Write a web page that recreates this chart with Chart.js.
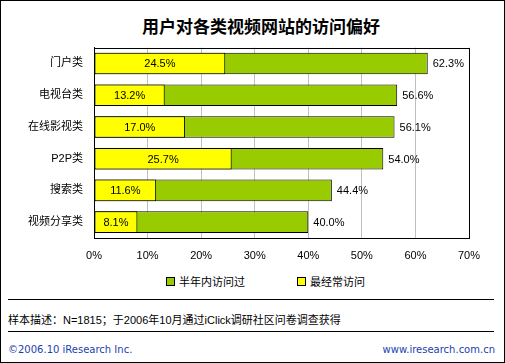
<!DOCTYPE html>
<html>
<head>
<meta charset="utf-8">
<script src="https://cdn.jsdelivr.net/npm/chart.js@4/dist/chart.umd.min.js"></script>
<style>
  html, body { margin: 0; padding: 0; background: #fff; }
  #frame { position: relative; width: 505px; height: 363px; box-sizing: border-box; border: 1px solid #000; overflow: hidden; font-family: "Liberation Sans", "Noto Sans CJK SC", sans-serif; }
  #title { position: absolute; left: 16px; width: 488px; top: 14px; text-align: center; font: bold 17px "Noto Sans CJK SC", sans-serif; line-height: 22px; color: #000; }
  #chartBox { position: absolute; left: -1px; top: 29px; width: 505px; height: 236px; }
  #legend { position: absolute; left: 165px; top: 273px; font-size: 11px; line-height: 16px; white-space: nowrap; }
  #legend span.item { display: inline-block; margin-right: 52px; }
  #legend i { display: inline-block; width: 7px; height: 7px; border: 1px solid #000; margin-right: 4px; vertical-align: 0px; }
  .rule { position: absolute; left: 7px; width: 486px; height: 0; border-top: 1px solid #000; }
  #note { position: absolute; left: 7px; top: 311px; font-size: 11px; line-height: 16px; color: #000; }
  .foot { position: absolute; top: 341px; font-family: "DejaVu Sans", sans-serif; font-size: 10px; line-height: 16px; color: #1a3fb0; }
</style>
</head>
<body>
<div id="frame">
  <div id="title">用户对各类视频网站的访问偏好</div>
  <div id="chartBox"><canvas id="chart"></canvas></div>
  <div id="legend"></div>
  <div class="rule" style="top:298px"></div>
  <div id="note">样本描述：N=1815；于2006年10月通过iClick调研社区问卷调查获得</div>
  <div class="rule" style="top:330px"></div>
  <div class="foot" style="left:7px">©2006.10 iResearch Inc.</div>
  <div class="foot" style="right:9px">www.iresearch.com.cn</div>
</div>
<script>
const categories = ["门户类", "电视台类", "在线影视类", "P2P类", "搜索类", "视频分享类"];
const visitedHalfYear = [62.3, 56.6, 56.1, 54.0, 44.4, 40.0];
const mostOften = [24.5, 13.2, 17.0, 25.7, 11.6, 8.1];
const xTicks = [0, 10, 20, 30, 40, 50, 60, 70];
const seriesNames = ["半年内访问过", "最经常访问"];
const seriesColors = ["#99cc00", "#ffff00"];

const tickFont = { family: "'Liberation Sans', 'Noto Sans CJK SC', sans-serif", size: 11 };

// value labels: yellow ones centred in the bar, green ones past the bar end
const valueLabels = {
  id: 'valueLabels',
  afterDatasetsDraw(chart) {
    const ctx = chart.ctx;
    ctx.save();
    ctx.font = "11px 'Liberation Sans', sans-serif";
    ctx.fillStyle = "#000";
    ctx.textBaseline = "middle";
    chart.data.datasets.forEach((ds, i) => {
      const meta = chart.getDatasetMeta(i);
      meta.data.forEach((bar, j) => {
        const txt = ds.data[j].toFixed(1) + "%";
        if (i === 1) {
          ctx.textAlign = "center";
          ctx.fillText(txt, (bar.base + bar.x) / 2, bar.y + 1);
        } else {
          ctx.textAlign = "left";
          ctx.fillText(txt, bar.x + 5, bar.y + 1);
        }
      });
    });
    ctx.restore();
  }
};

// black frame round the plot area
const plotFrame = {
  id: 'plotFrame',
  afterDraw(chart) {
    const a = chart.chartArea;
    const ctx = chart.ctx;
    ctx.save();
    ctx.strokeStyle = "#000";
    ctx.lineWidth = 1;
    ctx.strokeRect(Math.round(a.left) + 0.5, Math.round(a.top) + 0.5, Math.round(a.right - a.left), Math.round(a.bottom - a.top));
    ctx.restore();
  }
};

const legendEl = document.getElementById('legend');
seriesNames.forEach((name, i) => {
  const s = document.createElement('span');
  s.className = 'item';
  s.innerHTML = '<i style="background:' + seriesColors[i] + '"></i>' + name;
  legendEl.appendChild(s);
});

new Chart(document.getElementById('chart'), {
  type: 'bar',
  data: {
    labels: categories,
    datasets: [{
      label: seriesNames[0],
      data: visitedHalfYear,
      backgroundColor: seriesColors[0],
      borderColor: "#000",
      borderWidth: 1,
      borderSkipped: false,
      order: 2
    }, {
      label: seriesNames[1],
      data: mostOften,
      backgroundColor: seriesColors[1],
      borderColor: "#000",
      borderWidth: 1,
      borderSkipped: false,
      order: 1
    }]
  },
  options: {
    indexAxis: 'y',
    responsive: true,
    maintainAspectRatio: false,
    animation: false,
    grouped: false,
    barPercentage: 0.68,
    categoryPercentage: 1,
    layout: { padding: { top: 13, right: 36, left: 0, bottom: 0 } },
    plugins: {
      legend: { display: false },
      tooltip: { enabled: false }
    },
    scales: {
      x: {
        min: 0,
        max: 70,
        afterBuildTicks: (scale) => { scale.ticks = xTicks.map(v => ({ value: v })); },
        ticks: { font: tickFont, color: "#000", padding: 11, callback: (v) => v + "%" },
        grid: { color: "#c0c0c0", drawTicks: false },
        border: { color: "#000" },
        afterFit: (scale) => { scale.height = 28; }
      },
      y: {
        ticks: { font: tickFont, color: "#000", padding: 11 },
        grid: { display: false, drawTicks: false },
        border: { color: "#000" },
        afterFit: (scale) => { scale.width = 94; }
      }
    }
  },
  plugins: [valueLabels, plotFrame]
});
</script>
</body>
</html>
